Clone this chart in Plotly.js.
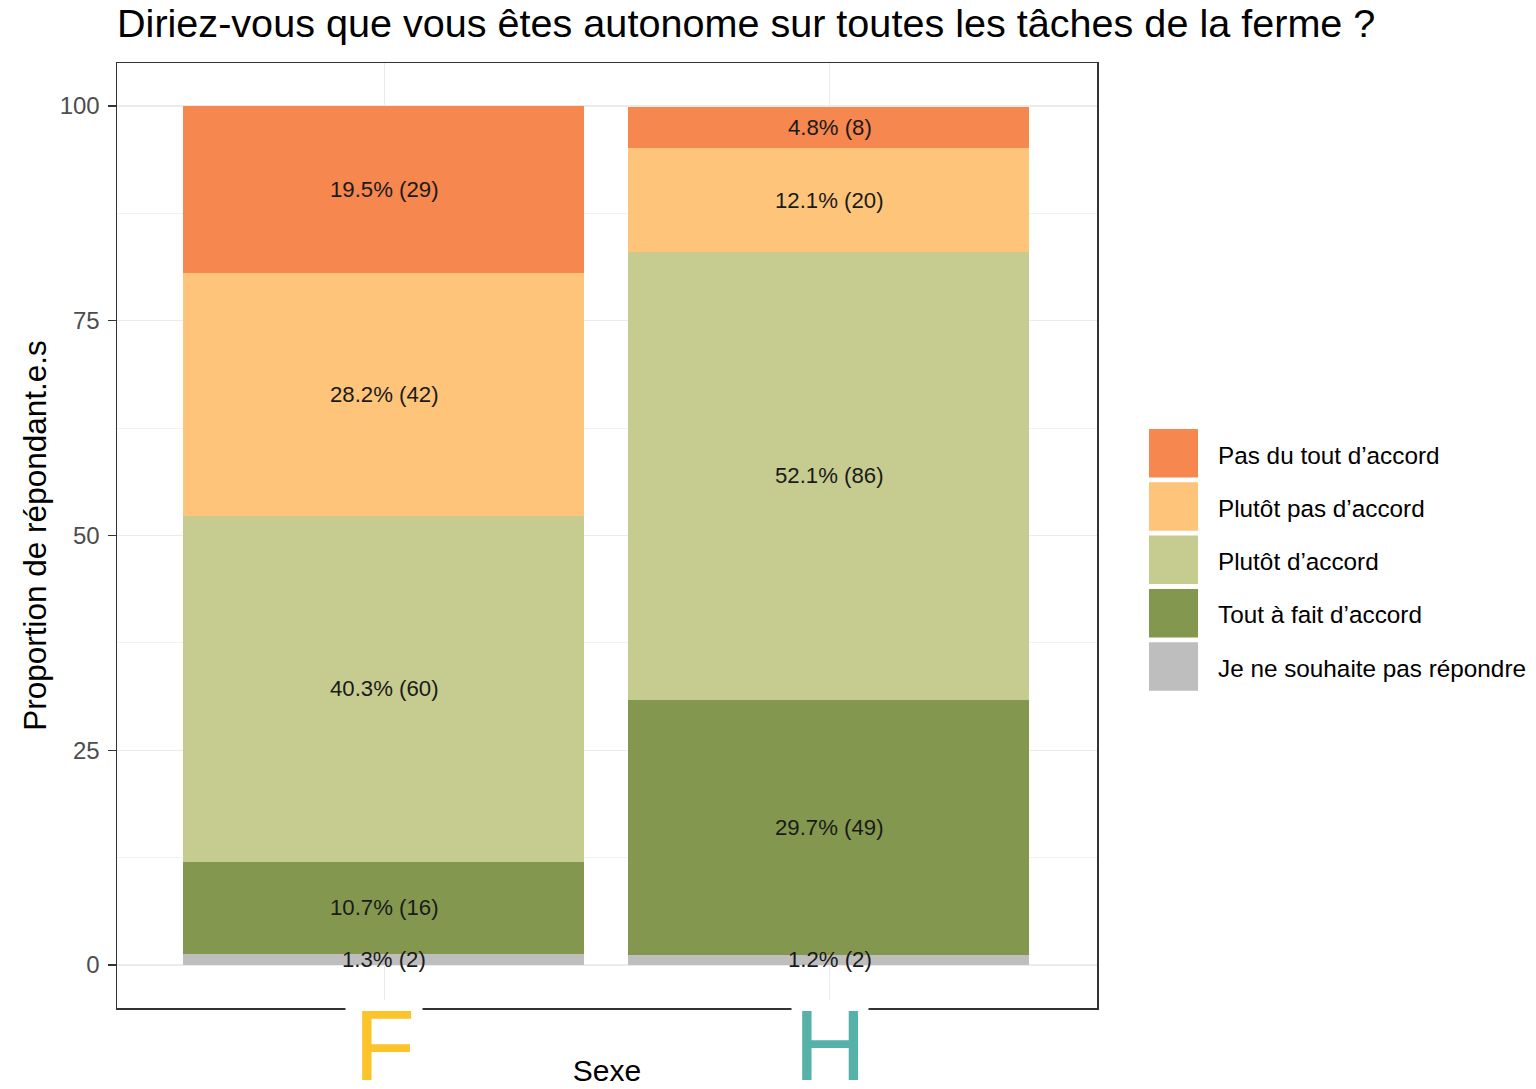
<!DOCTYPE html>
<html>
<head>
<meta charset="utf-8">
<script src="https://cdn.plot.ly/plotly-3.0.1.min.js"></script>
<style>html,body{margin:0;padding:0;background:#fff;}#chart{width:1536px;height:1089px;}</style>
</head>
<body>
<div id="chart"></div>
<script>
// ---- data ----
const sexes = ["F", "H"];
const sexColors = ["#FBC42B", "#56B1A9"];
const categories = ["Je ne souhaite pas répondre", "Tout à fait d’accord", "Plutôt d’accord", "Plutôt pas d’accord", "Pas du tout d’accord"];
const catColors = ["#BEBEBE", "#84974E", "#C6CC8F", "#FEC57A", "#F5874F"];
const pctF = [1.3, 10.7, 40.3, 28.2, 19.5];
const pctH = [1.2, 29.7, 52.1, 12.1, 4.8];
const nF = [2, 16, 60, 42, 29];
const nH = [2, 49, 86, 20, 8];
const yTicks = [0, 25, 50, 75, 100];

const FONT = "Liberation Sans, Arial, sans-serif";
const pcts = [pctF, pctH];
const ns = [nF, nH];

const traces = categories.map((c, i) => ({
  type: "bar",
  name: c,
  x: sexes,
  y: [pctF[i], pctH[i]],
  marker: {color: catColors[i], line: {width: 0}},
  width: 0.9,
  offset: -0.452,
  showlegend: false,
  hoverinfo: "name+y"
}));

const annotations = [];
// bar labels at segment midpoints
sexes.forEach((s, k) => {
  let cum = 0;
  pcts[k].forEach((v, i) => {
    annotations.push({
      x: s, y: cum + v / 2, xref: "x", yref: "y",
      text: v.toFixed(1) + "% (" + ns[k][i] + ")",
      showarrow: false,
      font: {family: FONT, size: 22.2, color: "#1A1A1A"}
    });
    cum += v;
  });
});
// big coloured category labels: white backing box, then the letter
sexes.forEach((s, k) => {
  annotations.push({
    x: s, xref: "x", y: 0, yref: "paper", yanchor: "top", yshift: 8,
    text: "&nbsp;", showarrow: false, bgcolor: "#FFFFFF", width: 74, height: 100,
    font: {family: FONT, size: 12, color: "#FFFFFF"}
  });
  annotations.push({
    x: s, xref: "x", y: 0, yref: "paper", yanchor: "top", yshift: 21,
    text: s, showarrow: false,
    font: {family: FONT, size: 100, color: sexColors[k]}
  });
});

// custom legend (top to bottom: reversed category order)
const shapes = [];
const plotTop = 63, plotBot = 1008, plotL = 117, plotR = 1097;
const toPy = py => (plotBot - py) / (plotBot - plotTop);
const toPx = px => (px - plotL) / (plotR - plotL);
const legendOrder = categories.slice().reverse();
const legendColors = catColors.slice().reverse();
legendOrder.forEach((c, i) => {
  const top = 429 + i * 53.3;
  shapes.push({
    type: "rect", xref: "paper", yref: "paper",
    x0: toPx(1149), x1: toPx(1198), y0: toPy(top + 48.5), y1: toPy(top),
    fillcolor: legendColors[i], line: {width: 0}
  });
  annotations.push({
    xref: "paper", yref: "paper", x: toPx(1216), y: toPy(top + 26),
    xanchor: "left", yanchor: "middle", showarrow: false,
    text: c, font: {family: FONT, size: 24.3, color: "#000000"}
  });
});

const layout = {
  width: 1536, height: 1089,
  margin: {l: 117, r: 439, t: 63, b: 81},
  paper_bgcolor: "#FFFFFF", plot_bgcolor: "#FFFFFF",
  barmode: "stack",
  title: {
    text: "Diriez-vous que vous êtes autonome sur toutes les tâches de la ferme ?",
    font: {family: FONT, size: 39.6, color: "#000000"},
    xref: "paper", x: 0, xanchor: "left",
    yref: "container", y: 0.979, yanchor: "middle"
  },
  xaxis: {
    type: "category",
    range: [-0.6, 1.6],
    showticklabels: false,
    ticks: "",
    showgrid: true, gridcolor: "#EBEBEB", gridwidth: 1.5,
    showline: true, linecolor: "#333333", linewidth: 1.5, mirror: true,
    zeroline: false,
    title: {text: "Sexe", font: {family: FONT, size: 30, color: "#000000"}, standoff: 51},
    fixedrange: true
  },
  yaxis: {
    range: [-5, 105],
    tickvals: yTicks,
    ticktext: yTicks.map(String),
    ticks: "outside", ticklen: 8, tickwidth: 1.5, tickcolor: "#333333",
    ticklabelstandoff: 3,
    tickfont: {family: FONT, size: 24, color: "#4D4D4D"},
    showgrid: true, gridcolor: "#EBEBEB", gridwidth: 1.5,
    minor: {tick0: 12.5, dtick: 25, showgrid: true, gridcolor: "#F2F2F2", gridwidth: 1, ticks: ""},
    showline: true, linecolor: "#333333", linewidth: 1.5, mirror: true,
    zeroline: false,
    title: {text: "Proportion de répondant.e.s", font: {family: FONT, size: 31.5, color: "#000000"}, standoff: 3},
    fixedrange: true
  },
  shapes: shapes,
  annotations: annotations,
  showlegend: false
};

Plotly.newPlot("chart", traces, layout, {displayModeBar: false, staticPlot: true});
</script>
</body>
</html>
